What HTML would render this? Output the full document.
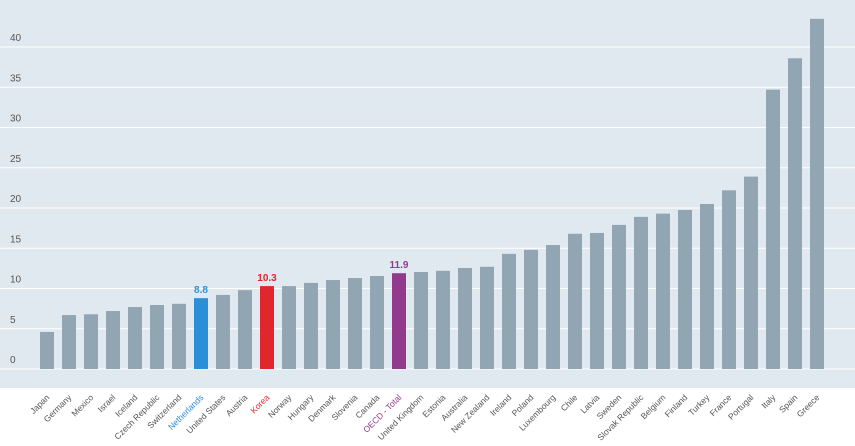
<!DOCTYPE html>
<html><head><meta charset="utf-8"><style>
html,body{margin:0;padding:0;background:#fff;}
svg{display:block;font-family:"Liberation Sans",sans-serif;}
</style></head><body>
<svg id="chart" width="855" height="446">
<rect x="0" y="0" width="855" height="388" fill="#e0e9f0"/>
<g id="grid"></g><g id="bars"></g><g id="xlabels"></g>
</svg>
<script>
const categories=["Japan","Germany","Mexico","Israel","Iceland","Czech Republic","Switzerland","Netherlands","United States","Austria","Korea","Norway","Hungary","Denmark","Slovenia","Canada","OECD - Total","United Kingdom","Estonia","Australia","New Zealand","Ireland","Poland","Luxembourg","Chile","Latvia","Sweden","Slovak Republic","Belgium","Finland","Turkey","France","Portugal","Italy","Spain","Greece"];
const values=[4.6,6.7,6.8,7.2,7.7,7.95,8.1,8.8,9.2,9.8,10.3,10.3,10.7,11.05,11.3,11.55,11.9,12.05,12.2,12.55,12.7,14.3,14.8,15.4,16.8,16.9,17.9,18.9,19.3,19.75,20.5,22.2,23.9,34.7,38.6,43.5];
const yTicks=[0,5,10,15,20,25,30,35,40];
const highlights={"Netherlands":"#2b8fd8","Korea":"#e1262e","OECD - Total":"#923b8c"};
const labelText={"Netherlands":"8.8","Korea":"10.3","OECD - Total":"11.9"};
const NS="http://www.w3.org/2000/svg";
const y=v=>369-v*8.05;
const x=i=>47+i*22;
function mk(tag,attrs,parent){const e=document.createElementNS(NS,tag);for(const k in attrs)e.setAttribute(k,attrs[k]);parent.appendChild(e);return e;}
const grid=document.getElementById('grid'),bars=document.getElementById('bars'),xl=document.getElementById('xlabels');
yTicks.forEach(t=>{
 const l=mk('line',{x1:0,x2:855,y1:y(t),y2:y(t),stroke:'#fff','stroke-width':1},grid);
 
 
 const tx=mk('text',{x:10,y:y(t)-6,'font-size':10,fill:'#555'},grid);
 tx.textContent=t;
 
 
});
categories.forEach((c,i)=>{
 const col=highlights[c]||'#91a6b2';
 const r=mk('rect',{x:x(i)-7,y:y(values[i]),width:14,height:369-y(values[i]),fill:col},bars);
 
 
 if(labelText[c]){
  const v=mk('text',{x:x(i),y:y(values[i])-5,'font-size':10,'font-weight':'bold','text-anchor':'middle',fill:col},bars);
  v.textContent=labelText[c];
  
  
 }
 const t=mk('text',{transform:`translate(${x(i)+3},398) rotate(-45)`,'font-size':8.5,'text-anchor':'end',fill:highlights[c]||'#555'},xl);
 t.textContent=c;
 
 
});
</script>
</body></html>
